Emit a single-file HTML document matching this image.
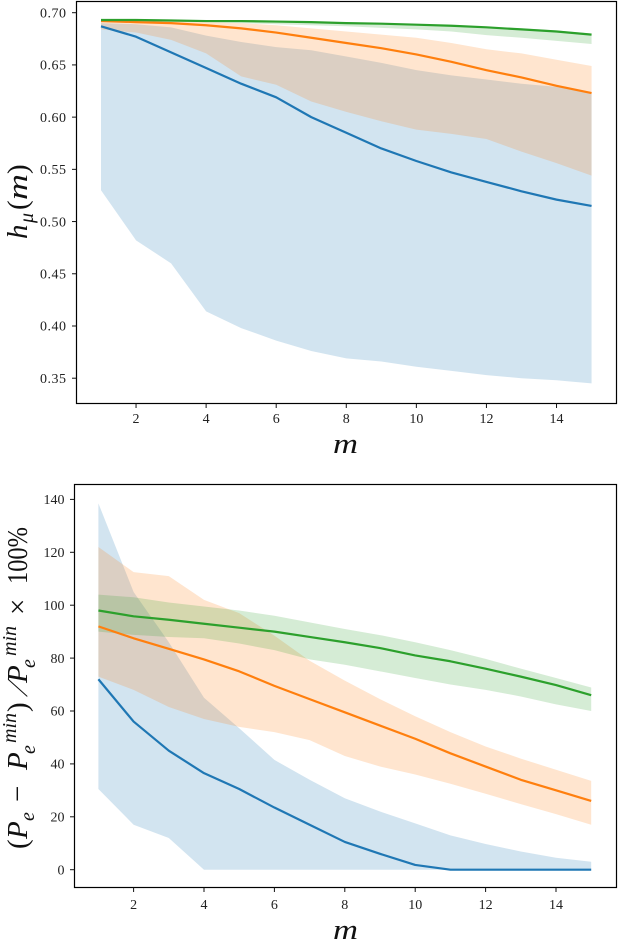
<!DOCTYPE html>
<html lang="en">
<head>
<meta charset="utf-8">
<title>Entropy rate and prediction error vs m</title>
<style>
html,body{margin:0;padding:0;background:#fff;width:618px;height:942px;overflow:hidden}
svg{display:block}
.tick{font-family:"Liberation Serif",serif;font-size:14px;fill:#222}
.label{font-family:"Liberation Serif",serif;font-style:italic;fill:#111}
.up{font-family:"Liberation Serif",serif;fill:#111}
</style>
</head>
<body>
<svg id="chart" xmlns="http://www.w3.org/2000/svg" width="618" height="942" viewBox="0 0 618 942">
  <g id="top-panel"></g>
  <g id="bottom-panel"></g>

  <text class="label" x="333" y="453" font-size="29" textLength="25" lengthAdjust="spacingAndGlyphs">m</text>
  <text class="label" x="333" y="939" font-size="29" textLength="25" lengthAdjust="spacingAndGlyphs">m</text>

  <g>
    <text class="label" font-size="29" transform="translate(27,239) rotate(-90)">h</text>
    <text class="label" font-size="20" transform="translate(33,223) rotate(-90)">μ</text>
    <text class="up" font-size="29" transform="translate(27,210) rotate(-90)">(</text>
    <text class="label" font-size="29" transform="translate(27,200) rotate(-90)" textLength="26" lengthAdjust="spacingAndGlyphs">m</text>
    <text class="up" font-size="29" transform="translate(27,174) rotate(-90)">)</text>
  </g>

  <g>
    <text class="up" font-size="29" transform="translate(27,849) rotate(-90)">(</text>
    <text class="label" font-size="29" transform="translate(27,839) rotate(-90)">P</text>
    <text class="label" font-size="20" transform="translate(34,821) rotate(-90)">e</text>
    <text class="up" font-size="29" transform="translate(27,802) rotate(-90)">−</text>
    <text class="label" font-size="29" transform="translate(27,770) rotate(-90)">P</text>
    <text class="label" font-size="20" transform="translate(35,754) rotate(-90)">e</text>
    <text class="label" font-size="20" transform="translate(16,743) rotate(-90)" textLength="30" lengthAdjust="spacingAndGlyphs">min</text>
    <text class="up" font-size="29" transform="translate(27,712) rotate(-90)">)</text>
    <text class="up" font-size="29" transform="translate(27,697) rotate(-90) skewX(-29)">/</text>
    <text class="label" font-size="29" transform="translate(27,683) rotate(-90)">P</text>
    <text class="label" font-size="20" transform="translate(35,668) rotate(-90)">e</text>
    <text class="label" font-size="20" transform="translate(16,656) rotate(-90)" textLength="30" lengthAdjust="spacingAndGlyphs">min</text>
    <text class="up" font-size="29" transform="translate(27,615) rotate(-90)">×</text>
    <text class="up" font-size="29" transform="translate(27,584) rotate(-90)" textLength="57" lengthAdjust="spacingAndGlyphs">100%</text>
  </g>
</svg>
<script>
var categories = [1,2,3,4,5,6,7,8,9,10,11,12,13,14,15];
var xTickValues = [2,4,6,8,10,12,14];

var topYTicks = [0.35,0.40,0.45,0.50,0.55,0.60,0.65,0.70];
var topBlueLine = [0.687,0.677,0.662,0.647,0.632,0.619,0.600,0.585,0.570,0.558,0.547,0.538,0.529,0.521,0.515];
var topBlueUpper = [0.690,0.689,0.686,0.678,0.672,0.667,0.664,0.658,0.652,0.645,0.640,0.636,0.632,0.629,0.624];
var topBlueLower = [0.530,0.482,0.460,0.414,0.398,0.386,0.376,0.369,0.366,0.361,0.357,0.353,0.350,0.348,0.345];
var topOrangeLine = [0.692,0.691,0.690,0.688,0.685,0.681,0.676,0.671,0.666,0.660,0.653,0.645,0.638,0.630,0.623];
var topOrangeUpper = [0.693,0.692,0.692,0.691,0.690,0.688,0.685,0.682,0.679,0.676,0.671,0.665,0.661,0.655,0.649];
var topOrangeLower = [0.684,0.681,0.674,0.661,0.639,0.631,0.615,0.605,0.596,0.588,0.584,0.579,0.567,0.556,0.544];
var topGreenLine = [0.693,0.693,0.6925,0.692,0.692,0.6915,0.691,0.690,0.6895,0.6885,0.6875,0.686,0.684,0.682,0.679];
var topGreenUpper = [0.694,0.694,0.693,0.693,0.6925,0.692,0.6915,0.691,0.690,0.689,0.688,0.6865,0.685,0.683,0.680];
var topGreenLower = [0.692,0.692,0.6915,0.691,0.690,0.689,0.688,0.687,0.6855,0.684,0.682,0.6785,0.676,0.673,0.670];

var bottomYTicks = [0,20,40,60,80,100,120,140];
var bottomBlueLine = [72,56,45,36.5,30.5,23.5,17,10.5,6,1.8,0,0,0,0,0];
var bottomBlueUpper = [138.5,105,86,65,53.5,41.5,34,27,22,17.5,13,9.7,6.9,4.5,3];
var bottomBlueLower = [30.5,17,12,0,0,0,0,0,0,0,0,0,0,0,0];
var bottomOrangeLine = [92,87.5,83.5,79.5,75,69.5,64.5,59.5,54.5,49.5,44,39,34,30,26];
var bottomOrangeUpper = [122,112.5,111,102,97,88.5,79,71.5,64.5,58,52,46.6,42,37.8,33.6];
var bottomOrangeLower = [73,68,61.5,57,54,52,49,43,39,36,32.5,28.7,24.8,21,17];
var bottomGreenLine = [98,95.8,94.5,93,91.5,90,88,86,83.8,81,78.8,76,73,69.8,66];
var bottomGreenUpper = [104,103,101,99.5,98,96,93.5,91,88.7,86,83,79.7,76,72.5,68.9];
var bottomGreenLower = [90,88.8,88,87.5,85.5,83,79.5,77.5,75,72.5,70,68,65.5,62.5,60];

var NS = 'http://www.w3.org/2000/svg';

function xTop(m){ return 101 + (m - 1) * 35.04; }
function yTop(v){ return 12.7 + (0.70 - v) * 1044.3; }
function xBottom(m){ return 98.4 + (m - 1) * 35.2; }
function yBottom(v){ return 869.7 - v * 2.645; }

function linePoints(xs, ys, xFn, yFn){
  return xs.map(function(m, i){ return xFn(m).toFixed(2) + ',' + yFn(ys[i]).toFixed(2); }).join(' ');
}
function bandPoints(xs, hi, lo, xFn, yFn){
  var a = xs.map(function(m, i){ return xFn(m).toFixed(2) + ',' + yFn(hi[i]).toFixed(2); });
  var b = xs.map(function(m, i){ return xFn(m).toFixed(2) + ',' + yFn(lo[i]).toFixed(2); }).reverse();
  return a.concat(b).join(' ');
}

function drawBand(parent, hi, lo, color, xFn, yFn, name){
  var el = document.createElementNS(NS, 'polygon');
  el.setAttribute('points', bandPoints(categories, hi, lo, xFn, yFn));
  el.setAttribute('fill', color);
  el.setAttribute('fill-opacity', '0.2');
  
  
  parent.appendChild(el);
}
function drawLine(parent, ys, color, xFn, yFn, name){
  var el = document.createElementNS(NS, 'polyline');
  el.setAttribute('points', linePoints(categories, ys, xFn, yFn));
  el.setAttribute('fill', 'none');
  el.setAttribute('stroke', color);
  el.setAttribute('stroke-width', '2.2');
  el.setAttribute('stroke-linejoin', 'round');
  
  
  parent.appendChild(el);
}
function drawFrame(parent, l, t, r, b){
  var el = document.createElementNS(NS, 'rect');
  el.setAttribute('x', l);
  el.setAttribute('y', t);
  el.setAttribute('width', r - l);
  el.setAttribute('height', b - t);
  el.setAttribute('fill', 'none');
  el.setAttribute('stroke', '#000');
  el.setAttribute('stroke-width', '1.2');
  
  
  parent.appendChild(el);
}
function drawXTicks(parent, xFn, axisY, labelY){
  xTickValues.forEach(function(v){
    var t = document.createElementNS(NS, 'line');
    t.setAttribute('x1', xFn(v));
    t.setAttribute('x2', xFn(v));
    t.setAttribute('y1', axisY);
    t.setAttribute('y2', axisY + 4.5);
    t.setAttribute('stroke', '#111');
    
    
    parent.appendChild(t);
    var s = document.createElementNS(NS, 'text');
    s.setAttribute('x', xFn(v));
    s.setAttribute('y', labelY);
    s.setAttribute('text-anchor', 'middle');
    s.setAttribute('class', 'tick');
    
    
    s.textContent = String(v);
    parent.appendChild(s);
  });
}
function drawYTicks(parent, ticks, yFn, axisX, digits){
  ticks.forEach(function(v){
    var t = document.createElementNS(NS, 'line');
    t.setAttribute('x1', axisX - 4.5);
    t.setAttribute('x2', axisX);
    t.setAttribute('y1', yFn(v));
    t.setAttribute('y2', yFn(v));
    t.setAttribute('stroke', '#111');
    
    
    parent.appendChild(t);
    var s = document.createElementNS(NS, 'text');
    s.setAttribute('x', axisX - 10);
    s.setAttribute('y', yFn(v) + 4.7);
    s.setAttribute('text-anchor', 'end');
    s.setAttribute('class', 'tick');
    if (digits > 0) {
      s.setAttribute('letter-spacing', '0.5');
    }
    
    
    s.textContent = v.toFixed(digits);
    parent.appendChild(s);
  });
}

var topG = document.getElementById('top-panel');
drawBand(topG, topBlueUpper, topBlueLower, '#1f77b4', xTop, yTop, 'blue-band');
drawBand(topG, topOrangeUpper, topOrangeLower, '#ff7f0e', xTop, yTop, 'orange-band');
drawBand(topG, topGreenUpper, topGreenLower, '#2ca02c', xTop, yTop, 'green-band');
drawLine(topG, topBlueLine, '#1f77b4', xTop, yTop, 'blue-line');
drawLine(topG, topOrangeLine, '#ff7f0e', xTop, yTop, 'orange-line');
drawLine(topG, topGreenLine, '#2ca02c', xTop, yTop, 'green-line');
drawFrame(topG, 76.5, 1.5, 616.5, 403.5);
drawXTicks(topG, xTop, 403.5, 423);
drawYTicks(topG, topYTicks, yTop, 76.5, 2);

var botG = document.getElementById('bottom-panel');
drawBand(botG, bottomBlueUpper, bottomBlueLower, '#1f77b4', xBottom, yBottom, 'blue-band');
drawBand(botG, bottomOrangeUpper, bottomOrangeLower, '#ff7f0e', xBottom, yBottom, 'orange-band');
drawBand(botG, bottomGreenUpper, bottomGreenLower, '#2ca02c', xBottom, yBottom, 'green-band');
drawLine(botG, bottomBlueLine, '#1f77b4', xBottom, yBottom, 'blue-line');
drawLine(botG, bottomOrangeLine, '#ff7f0e', xBottom, yBottom, 'orange-line');
drawLine(botG, bottomGreenLine, '#2ca02c', xBottom, yBottom, 'green-line');
drawFrame(botG, 74.5, 484.5, 616.5, 887.5);
drawXTicks(botG, xBottom, 887.5, 909);
drawYTicks(botG, bottomYTicks, yBottom, 74.5, 0);
</script>
</body>
</html>
